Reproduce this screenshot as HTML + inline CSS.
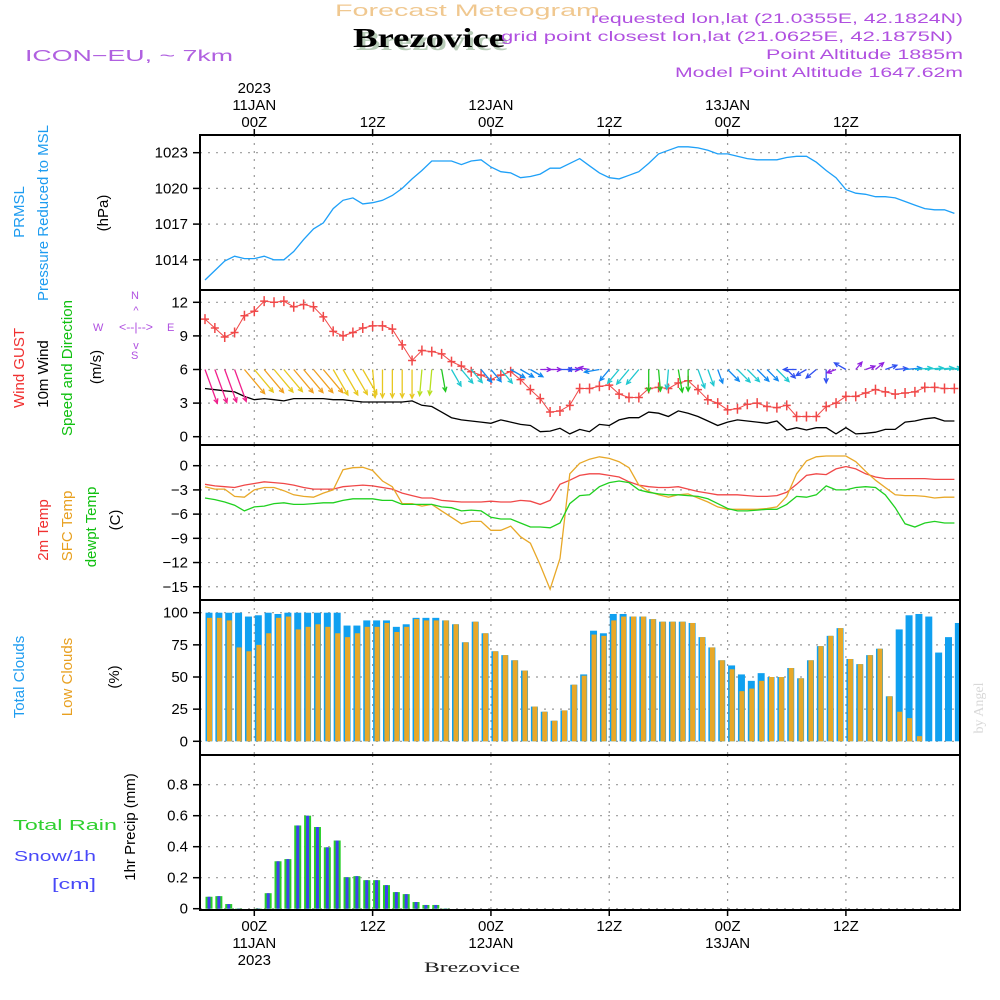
<!DOCTYPE html>
<html><head><meta charset="utf-8"><title>Forecast Meteogram Brezovice</title>
<style>
html,body{margin:0;padding:0;background:#fff;}
svg{display:block;font-family:"Liberation Sans",sans-serif;}
</style></head>
<body>
<svg id="chart" xmlns="http://www.w3.org/2000/svg" width="1000" height="1000" viewBox="0 0 1000 1000">
<rect x="0" y="0" width="1000" height="1000" fill="#fff"/>
<text x="335" y="16" font-size="17" fill="#f0c890" textLength="265" lengthAdjust="spacingAndGlyphs">Forecast Meteogram</text>
<text x="356" y="50" font-size="27" font-weight="bold" font-family="Liberation Serif, serif" fill="#b8ccb8" textLength="152" lengthAdjust="spacingAndGlyphs">Brezovice</text>
<text x="353" y="47" font-size="27" font-weight="bold" font-family="Liberation Serif, serif" fill="#000" textLength="152" lengthAdjust="spacingAndGlyphs">Brezovice</text>
<text x="25" y="61" font-size="16" fill="#b060e0" textLength="208" lengthAdjust="spacingAndGlyphs">ICON−EU, ~ 7km</text>
<g fill="#b050e0" font-size="14" text-anchor="end">
<text x="963" y="23" textLength="372" lengthAdjust="spacingAndGlyphs">requested lon,lat (21.0355E, 42.1824N)</text>
<text x="953" y="41" textLength="452" lengthAdjust="spacingAndGlyphs">grid point closest lon,lat (21.0625E, 42.1875N)</text>
<text x="963" y="59" textLength="197" lengthAdjust="spacingAndGlyphs">Point Altitude 1885m</text>
<text x="963" y="77" textLength="288" lengthAdjust="spacingAndGlyphs">Model Point Altitude 1647.62m</text>
</g>
<g id="grid"></g>
<g id="marks"></g>
<g id="frame"></g>
<g id="labels"></g>
<g font-size="15">
<text transform="translate(24,212) rotate(-90)" text-anchor="middle" fill="#1e9cf0">PRMSL</text>
<text transform="translate(48,213) rotate(-90)" text-anchor="middle" fill="#1e9cf0">Pressure  Reduced to MSL</text>
<text transform="translate(108,213) rotate(-90)" text-anchor="middle" fill="#000">(hPa)</text>
<text transform="translate(24,368) rotate(-90)" text-anchor="middle" fill="#f03030">Wind GUST</text>
<text transform="translate(48,374) rotate(-90)" text-anchor="middle" fill="#000">10m Wind</text>
<text transform="translate(72,368) rotate(-90)" text-anchor="middle" fill="#10c010">Speed and Direction</text>
<text transform="translate(101,367) rotate(-90)" text-anchor="middle" fill="#000">(m/s)</text>
<text transform="translate(48,530) rotate(-90)" text-anchor="middle" fill="#f03030">2m Temp</text>
<text transform="translate(72,526) rotate(-90)" text-anchor="middle" fill="#e8a020">SFC Temp</text>
<text transform="translate(96,527) rotate(-90)" text-anchor="middle" fill="#10c010">dewpt Temp</text>
<text transform="translate(120,520) rotate(-90)" text-anchor="middle" fill="#000">(C)</text>
<text transform="translate(24,677) rotate(-90)" text-anchor="middle" fill="#1e9cf0">Total Clouds</text>
<text transform="translate(72,677) rotate(-90)" text-anchor="middle" fill="#e8a020">Low Clouds</text>
<text transform="translate(119,677) rotate(-90)" text-anchor="middle" fill="#000">(%)</text>
<text transform="translate(135,827) rotate(-90)" text-anchor="middle" fill="#000">1hr Precip (mm)</text>
<text x="13" y="830" fill="#30d030" textLength="104" lengthAdjust="spacingAndGlyphs">Total   Rain</text>
<text x="14" y="861" fill="#4848f8" textLength="82" lengthAdjust="spacingAndGlyphs">Snow/1h</text>
<text x="52" y="889" fill="#4848f8" textLength="44" lengthAdjust="spacingAndGlyphs">[cm]</text>
</g>
<g fill="#b050e0" font-size="11">
<text x="93" y="331">W</text><text x="131" y="299">N</text><text x="167" y="331">E</text><text x="131" y="359">S</text>
<text x="136" y="331" text-anchor="middle" font-size="12" textLength="34" lengthAdjust="spacingAndGlyphs">&lt;--|--&gt;</text>
<text x="136" y="314" text-anchor="middle">^</text><text x="136" y="349" text-anchor="middle">v</text>
</g>
<text transform="translate(983,708) rotate(-90)" text-anchor="middle" font-family="Liberation Serif, serif" font-size="14" fill="#d8d8d8">by Angel</text>
<text x="472" y="972" text-anchor="middle" font-family="Liberation Serif, serif" font-size="15" fill="#222" textLength="96" lengthAdjust="spacingAndGlyphs">Brezovice</text>
</svg>
<script>
const pressure=[1012.3,1013.1,1013.9,1014.3,1014.1,1014.1,1014.3,1014.0,1014.0,1014.7,1015.7,1016.6,1017.1,1018.3,1019.0,1019.2,1018.7,1018.8,1019.0,1019.4,1020.0,1020.8,1021.5,1022.3,1022.3,1022.3,1022.0,1022.3,1022.4,1021.8,1021.4,1021.3,1020.9,1021.0,1021.2,1021.7,1021.7,1022.1,1022.5,1021.9,1021.3,1020.9,1020.8,1021.1,1021.4,1022.1,1022.9,1023.2,1023.5,1023.5,1023.4,1023.2,1022.9,1022.9,1022.7,1022.5,1022.4,1022.4,1022.4,1022.6,1022.7,1022.7,1022.2,1021.5,1020.9,1019.9,1019.6,1019.5,1019.3,1019.3,1019.2,1018.9,1018.6,1018.3,1018.2,1018.2,1017.9];
const gust=[10.5,9.7,8.9,9.3,10.8,11.2,12.1,12.0,12.1,11.6,11.8,11.6,10.7,9.4,9.0,9.3,9.7,9.9,9.9,9.6,8.2,6.8,7.7,7.6,7.4,6.7,6.3,5.8,5.5,5.1,5.5,5.8,5.1,4.2,3.4,2.2,2.3,2.8,4.3,4.3,4.5,4.6,3.8,3.5,3.5,4.3,4.4,4.3,4.8,5.0,4.2,3.3,3.0,2.4,2.5,2.9,3.0,2.7,2.6,2.8,1.8,1.8,1.8,2.7,3.0,3.6,3.6,3.9,4.2,4.0,3.8,3.9,4.0,4.4,4.4,4.3,4.3];
const windSpeed=[4.3,4.2,4.1,4.0,3.6,3.3,3.4,3.3,3.2,3.4,3.4,3.4,3.4,3.3,3.3,3.2,3.1,3.1,3.1,3.1,3.1,3.2,2.8,2.7,2.2,1.7,1.5,1.4,1.3,1.2,1.5,1.3,1.1,1.0,0.45,0.5,0.75,0.25,0.65,0.45,1.1,1.0,1.5,1.7,1.7,2.2,2.1,1.8,2.3,2.1,1.8,1.4,1.0,1.3,1.5,1.4,1.3,1.2,1.4,0.6,0.8,0.6,0.8,0.8,0.25,0.8,0.25,0.3,0.4,0.65,0.65,1.3,1.4,1.6,1.7,1.4,1.4];
const windDir=[340,340,340,340,320,320,320,320,320,320,320,320,320,330,330,330,330,355,0,0,0,0,5,5,350,330,320,320,320,320,320,300,300,300,270,270,270,270,90,100,80,40,40,40,40,0,355,5,350,0,340,340,340,315,315,315,315,315,315,315,90,60,50,0,70,120,220,250,230,250,265,265,265,265,265,265,265];
const temp2m=[-2.3,-2.5,-2.6,-2.7,-2.4,-2.2,-2.0,-2.1,-2.2,-2.4,-2.7,-2.9,-2.9,-2.9,-2.6,-2.5,-2.4,-2.5,-2.7,-2.9,-3.4,-3.7,-4.0,-4.0,-4.3,-4.4,-4.5,-4.5,-4.5,-4.4,-4.5,-4.5,-4.3,-4.4,-4.8,-4.3,-2.3,-1.8,-1.2,-1.0,-1.0,-1.2,-1.4,-2.0,-2.4,-2.6,-2.7,-2.7,-2.6,-2.9,-3.2,-3.4,-3.6,-3.6,-3.6,-3.7,-3.8,-3.8,-3.7,-3.3,-2.3,-1.2,-1.0,-1.1,-0.4,-0.1,-0.4,-1.0,-1.4,-1.6,-1.6,-1.6,-1.6,-1.6,-1.7,-1.7,-1.7];
const tempSfc=[-2.6,-2.9,-2.9,-3.8,-3.9,-3.0,-2.7,-2.7,-3.1,-3.6,-3.8,-3.9,-3.4,-3.0,-0.5,-0.25,-0.2,-0.6,-1.9,-2.6,-4.7,-4.7,-5.0,-4.8,-5.6,-6.4,-7.2,-6.9,-6.9,-8.0,-8.0,-7.5,-8.8,-9.6,-12.3,-15.3,-11.5,-1.0,0.3,0.8,1.1,0.9,0.5,-0.25,-2.4,-3.2,-3.6,-3.9,-3.6,-3.5,-4.0,-4.5,-5.1,-5.4,-5.4,-5.4,-5.4,-5.3,-5.1,-3.8,-1.0,0.6,1.1,1.2,1.2,1.2,0.5,-0.7,-1.8,-2.7,-3.6,-3.7,-3.7,-3.8,-4.0,-3.9,-3.9];
const dewpt=[-4.0,-4.2,-4.5,-4.9,-5.6,-5.1,-5.0,-4.7,-4.6,-4.8,-4.8,-4.7,-4.6,-4.6,-4.3,-4.1,-4.1,-4.1,-4.3,-4.3,-4.8,-4.8,-4.8,-4.8,-5.1,-5.2,-5.6,-5.5,-5.6,-6.4,-6.6,-6.6,-7.1,-7.6,-7.6,-7.7,-7.1,-4.7,-3.7,-3.6,-2.6,-2.1,-1.9,-2.1,-3.0,-3.3,-3.5,-3.6,-3.6,-3.7,-3.8,-4.1,-4.7,-5.3,-5.6,-5.6,-5.5,-5.4,-5.4,-4.8,-3.8,-3.9,-3.6,-2.5,-3.0,-3.0,-2.7,-2.6,-2.7,-3.6,-5.2,-7.2,-7.6,-7.1,-6.9,-7.1,-7.1];
const totalClouds=[100,100,100,100,97,98,100,99,100,100,100,100,100,100,90,90,94,94,94,89,91,96,96,96,94,91,77,93,84,70,67,63,55,27,23,16,24,44,52,86,84,99,99,97,97,95,93,93,93,92,81,73,63,59,52,47,53,50,50,57,49,63,74,82,88,64,60,67,72,35,87,98,99,97,69,81,92];
const lowClouds=[96,96,94,73,70,75,84,96,97,87,89,91,89,84,81,84,89,89,92,85,89,95,94,94,94,91,77,93,84,70,67,63,55,27,23,16,24,44,51,83,82,94,97,97,97,95,93,93,93,92,81,73,63,56,39,41,47,50,50,57,49,63,74,82,88,64,60,67,72,35,23,18,4,0,0,0,0];
const precip=[0.077,0.081,0.03,0.002,0,0.002,0.10,0.306,0.32,0.537,0.60,0.527,0.396,0.44,0.203,0.21,0.184,0.184,0.152,0.107,0.094,0.043,0.024,0.024,0.002,0,0,0,0,0,0,0,0,0,0,0,0,0,0,0,0,0,0,0,0,0,0,0,0,0,0,0,0,0,0,0,0,0,0,0,0,0,0,0,0,0,0,0,0,0,0,0,0,0,0,0,0];
const pressTicks=[1014,1017,1020,1023];
const windTicks=[0,3,6,9,12];
const tempTicks=[-15,-12,-9,-6,-3,0];
const cloudTicks=[0,25,50,75,100];
const precipTicks=[0,0.2,0.4,0.6,0.8];
const timeTickHours=[0,12,24,36,48,60];
const topTimeLabels=[["2023","11JAN","00Z"],["","","12Z"],["","12JAN","00Z"],["","","12Z"],["","13JAN","00Z"],["","","12Z"]];
const bottomTimeLabels=[["00Z","11JAN","2023"],["12Z","",""],["00Z","12JAN",""],["12Z","",""],["00Z","13JAN",""],["12Z","",""]];
const startHour=-5;

const NS="http://www.w3.org/2000/svg";
const L=200,R=960;
const xH=h=>254.3+h*9.86;
const xi=i=>xH(startHour+i);
const yP=p=>152.7+(1023-p)*11.9;
const yW=s=>436.7-s*11.2;
const yT=t=>465.7-t*8.07;
const yC=c=>741.3-c*1.286;
const yR=v=>908.7-v*155;
const panels=[[135,290],[290,445],[445,600],[600,755],[755,910]];
function mk(tag,attrs,parent){const e=document.createElementNS(NS,tag);for(const k in attrs)e.setAttribute(k,attrs[k]);parent.appendChild(e);return e;}
const grid=document.getElementById('grid'),marks=document.getElementById('marks'),frame=document.getElementById('frame'),labels=document.getElementById('labels');

const defs=mk('defs',{},document.getElementById('chart'));
const cp=mk('clipPath',{id:'plotclip'},defs);mk('rect',{x:L,y:135,width:R-L,height:775},cp);
marks.setAttribute('clip-path','url(#plotclip)');

panels.forEach(([t,b])=>{timeTickHours.forEach(h=>{
  const l=mk('line',{x1:xH(h),x2:xH(h),y1:t,y2:b,stroke:'#999','stroke-width':1.2,'stroke-dasharray':'2,6'},grid);
  
  
});});
function yaxis(ticks,yf,fmt,name){
  ticks.forEach(v=>{
    const y=yf(v);
    const g=mk('line',{x1:L,x2:R,y1:y,y2:y,stroke:'#999','stroke-width':1.2,'stroke-dasharray':'2,6'},grid);
    
    
    mk('line',{x1:L-7,x2:L,y1:y,y2:y,stroke:'#000','stroke-width':1.5},frame);
    const t=mk('text',{x:L-12,y:y+5,'text-anchor':'end','font-size':15,fill:'#000'},labels);
    t.textContent=fmt(v);
    
    
  });
}
yaxis(pressTicks,yP,v=>String(v),'pressure');
yaxis(windTicks,yW,v=>String(v),'wind');
yaxis(tempTicks,yT,v=>v<0?'−'+(-v):String(v),'temp');
yaxis(cloudTicks,yC,v=>String(v),'cloud');
yaxis(precipTicks,yR,v=>v===0?'0':v.toFixed(1),'precip');

function poly(arr,yf,color,name,w){
  const pts=arr.map((v,i)=>xi(i).toFixed(1)+','+yf(v).toFixed(1)).join(' ');
  const p=mk('polyline',{points:pts,fill:'none',stroke:color,'stroke-width':w||1.3},marks);
  
  
  return p;
}
poly(pressure,yP,'#1ea0f8','pressure-line');

poly(windSpeed,yW,'#000','wind-speed-line');
poly(gust,yW,'#f04848','gust-line',1);
gust.forEach((v,i)=>{
  const x=xi(i),y=yW(v);
  const g=mk('path',{d:`M${x-4},${y}H${x+4}M${x},${y-5}V${y+5}`,stroke:'#f04848','stroke-width':1.5},marks);
  
  
});
function spdColor(s){if(s>=3.8)return'#f0208c';if(s>=3.35)return'#f0a020';if(s>=2.9)return'#e8c820';if(s>=2.5)return'#b8e020';if(s>=1.9)return'#20c820';if(s>=1.35)return'#20c8d0';if(s>=0.9)return'#1088f0';if(s>=0.55)return'#3050f0';return'#9020e0';}
windDir.forEach((d,i)=>{
  const s=windSpeed[i];const to=(d+180)*Math.PI/180;
  const len=8+6.5*s;const x0=xi(i),y0=yW(6);
  const dx=Math.sin(to),dy=-Math.cos(to);
  const x1=x0+dx*len,y1=y0+dy*len;
  const a=Math.atan2(dy,dx),h=5;
  const hx1=x1-h*Math.cos(a-0.45),hy1=y1-h*Math.sin(a-0.45);
  const hx2=x1-h*Math.cos(a+0.45),hy2=y1-h*Math.sin(a+0.45);
  const p=mk('path',{d:`M${x0},${y0}L${x1},${y1}M${hx1},${hy1}L${x1},${y1}L${hx2},${hy2}`,stroke:spdColor(s),'stroke-width':1.3,fill:'none'},marks);
  
  
});

poly(temp2m,yT,'#f04848','temp-2m-line');
poly(tempSfc,yT,'#e8a828','temp-sfc-line');
poly(dewpt,yT,'#20d020','dewpoint-line');

totalClouds.forEach((v,i)=>{
  const x=xi(i)+4;
  const b=mk('rect',{x:x-3.5,y:yC(v),width:7,height:yC(0)-yC(v),fill:'#10a0f0'},marks);
  
  
});
lowClouds.forEach((v,i)=>{
  const x=xi(i)+4;
  const b=mk('rect',{x:x-2,y:yC(v),width:5,height:yC(0)-yC(v),fill:'#e8a828'},marks);
  
  
});
precip.forEach((v,i)=>{
  const x=xi(i)+4;
  const b=mk('rect',{x:x-3.5,y:yR(v),width:7,height:yR(0)-yR(v),fill:'#28d028'},marks);
  
  
  const s=mk('rect',{x:x-1.5,y:yR(v),width:3,height:yR(0)-yR(v),fill:'#4040f0'},marks);
  
  
});

panels.forEach(([t,b],k)=>{
  const r=mk('rect',{x:L,y:t,width:R-L,height:b-t,fill:'none',stroke:'#000','stroke-width':2},frame);
  
  
});
timeTickHours.forEach((h,k)=>{
  const x=xH(h);
  mk('line',{x1:x,x2:x,y1:129,y2:135,stroke:'#000','stroke-width':1.5},frame);
  mk('line',{x1:x,x2:x,y1:910,y2:916,stroke:'#000','stroke-width':1.5},frame);
  topTimeLabels[k].forEach((s,j)=>{if(!s)return;
    const t=mk('text',{x:x,y:93+j*17,'text-anchor':'middle','font-size':15,fill:'#000'},labels);
    t.textContent=s;
    
    
  });
  bottomTimeLabels[k].forEach((s,j)=>{if(!s)return;
    const t=mk('text',{x:x,y:931+j*17,'text-anchor':'middle','font-size':15,fill:'#000'},labels);
    t.textContent=s;
    
    
  });
});
</script>
</body></html>
